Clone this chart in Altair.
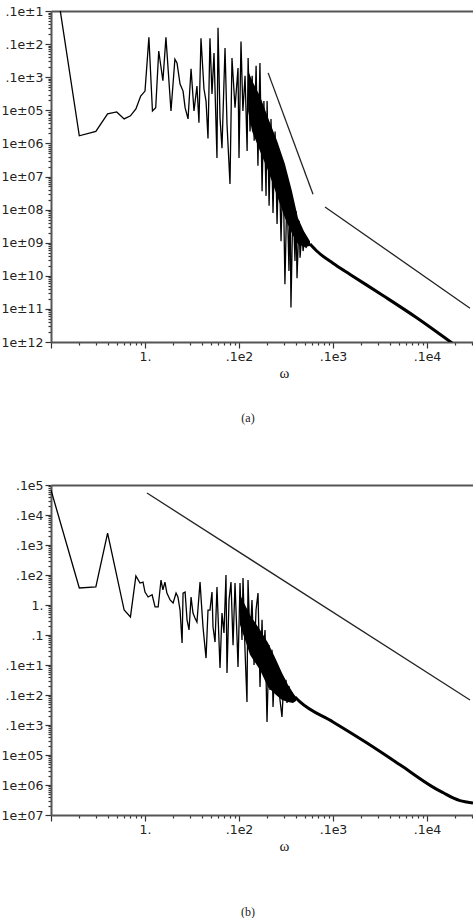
import json
import altair as alt
import pandas as pd

# ---------------- Panel (a) ----------------
a_omega = [0.1, 0.2, 0.3, 0.4, 0.5, 0.6, 0.7, 0.8, 0.9, 1.0, 1.1, 1.2, 1.3, 1.4,
           1.55, 1.67, 1.89, 2.08, 2.19, 2.36, 2.54, 2.67, 2.87, 3.09,
           3.32, 3.57, 3.75, 3.94, 4.24, 4.46, 4.68, 4.91, 5.16, 5.42,
           5.83, 5.98, 6.28, 6.59, 7.10, 7.45, 8.02, 8.42, 9.07, 9.76,
           10.0, 10.5, 11.0, 11.6, 12.2, 12.5, 13.1, 13.8, 14.5, 15.2,
           15.9, 16.7, 17.6, 18.4, 19.4, 19.9, 20.9, 21.9, 23.0, 24.2,
           25.4, 26.6, 28.0, 29.4, 30.8, 32.4, 34.0, 34.9, 35.7, 37.5,
           39.4, 40.4, 41.4, 43.5, 44.6, 46.8, 48.0, 50.4, 51.6, 54.2, 56.9]
a_value = [0.7, 1.7e-6, 2.3e-6, 7.8e-6, 8.9e-6, 5.5e-6, 6.8e-6, 1.1e-5, 2.7e-5, 3.8e-5, 1.6e-3, 9.5e-6, 1.2e-5, 6.2e-4,
           7.8e-5, 1.6e-3, 9.5e-6, 3.5e-4, 2.7e-4, 6.2e-5, 3.8e-5, 1.2e-5, 5.5e-6, 1.8e-4,
           9.5e-6, 5.4e-5, 4.2e-6, 1.5e-3, 4.4e-5, 1.9e-5, 1.4e-6, 1.5e-3, 3.1e-5, 5.4e-4,
           3.6e-7, 3.1e-3, 5.9e-6, 7.2e-7, 7.6e-4, 3.9e-6, 5.9e-8, 3.8e-4, 1.2e-5, 1.9e-4,
           3.6e-7, 1.2e-3, 9.5e-6, 1.1e-4, 5.9e-7, 3.8e-4, 2.3e-6, 1.1e-4, 1.2e-6, 2.2e-4,
           2.1e-7, 2.7e-4, 3.6e-8, 1.9e-5, 2.6e-8, 1.9e-5, 1.3e-8, 5.5e-6, 7.9e-9, 2.3e-6,
           3.7e-9, 5.9e-7, 1.1e-9, 3.0e-7, 5.6e-11, 4.5e-8, 1.4e-10, 2.6e-8, 1.1e-11, 1.8e-8,
           2.8e-10, 9.1e-9, 8.5e-11, 4.6e-9, 3.5e-10, 2.6e-9, 5.6e-10, 1.5e-9, 6.9e-10, 1.1e-9, 9.1e-10]
a_tail_omega = [56.9, 67.1, 100, 152, 343, 777, 1832, 3085]
a_tail_value = [9.1e-10, 5.6e-10, 2.4e-10, 1.1e-10, 2.5e-11, 5.4e-12, 9.5e-13, 3.3e-13]
a_band_omega = [12.5, 13.8, 16.7, 20.4, 25.4, 30.8, 36.6, 42.4, 49.1, 56.9]
a_band_hi = [1.6e-4, 7.8e-5, 2.7e-5, 5.9e-6, 1.2e-6, 2.4e-7, 3.6e-8, 5.6e-9, 2.2e-9, 1.1e-9]
a_band_lo = [9.5e-6, 2.3e-6, 5.9e-7, 1.5e-7, 2.6e-8, 5.6e-9, 1.9e-9, 9.1e-10, 7.4e-10, 8.0e-10]
a_guide_omega = [20.4, 61.3, 82.2, 2866]
a_guide_value = [1.35e-4, 2.9e-8, 1.2e-8, 1.05e-11]
a_guide_seg = [1, 1, 2, 2]
a_y_domain = [1e-12, 1e-2]
a_y_labels = ["1e\u00b112", "1e\u00b111", "1e\u00b110", "1e\u00b109", "1e\u00b108", "1e\u00b107",
              "1e\u00b106", "1e\u00b105", ".1e\u00b13", ".1e\u00b12", ".1e\u00b11"]

# ---------------- Panel (b) ----------------
b_omega = [0.1, 0.2, 0.3, 0.4, 0.6, 0.7, 0.8, 0.885, 0.952, 1.0,
           1.08, 1.19, 1.28, 1.38, 1.48, 1.55, 1.63, 1.71, 1.85, 1.99,
           2.14, 2.24, 2.36, 2.48, 2.54, 2.67, 2.80, 2.94, 3.09, 3.24,
           3.40, 3.57, 3.85, 4.04, 4.14, 4.46, 4.68, 4.91, 5.16, 5.29,
           5.56, 5.83, 6.28, 6.59, 6.92, 7.27, 7.45, 7.83, 8.22, 8.64,
           9.07, 9.52, 9.76, 10.25, 10.76, 11.03, 11.58, 12.16, 12.47, 13.09,
           13.75, 14.45, 15.17, 15.93, 16.73, 17.58, 17.99, 18.92, 19.86, 20.85,
           21.38, 22.44, 23.01, 24.15, 25.36, 26.0, 27.3, 28.65, 30.1, 30.8,
           31.6, 32.4, 34.0, 34.9, 36.6, 37.5, 39.4]
b_value = [6800, 3.7, 4.0, 250, 0.68, 0.40, 9.3, 5.4, 5.8, 2.7,
           1.85, 2.2, 0.86, 0.86, 6.8, 3.2, 5.8, 2.5, 1.47, 1.17,
           2.5, 1.85, 0.68, 0.054, 2.5, 2.7, 0.32, 0.147, 1.85, 0.54,
           0.37, 0.27, 5.8, 0.58, 0.185, 0.017, 0.68, 0.68, 2.7, 0.185,
           0.058, 4.0, 0.0079, 0.54, 0.117, 10, 0.0054, 1.47, 5.8, 0.046,
           5.4, 0.086, 0.0086, 5.4, 0.068, 7.9, 0.032, 0.00058, 6.8, 0.068,
           1.47, 0.01, 0.68, 2.5, 0.00185, 0.32, 0.0147, 0.147, 0.000126, 0.046,
           0.00147, 0.032, 0.0004, 0.0147, 0.001, 0.0054, 0.00068, 0.000185, 0.0037, 0.00068,
           0.0032, 0.00054, 0.002, 0.00068, 0.00126, 0.00068, 0.00086]
b_tail_omega = [39.4, 44.6, 100, 230, 516, 1158, 1492, 1892, 2244, 2644, 3085]
b_tail_value = [8.6e-4, 5.9e-4, 1.26e-4, 2.5e-5, 4.7e-6, 8.5e-7, 5.5e-7, 3.7e-7, 3.0e-7, 2.7e-7, 2.5e-7]
b_band_omega = [10.25, 13.09, 16.73, 20.4, 24.8, 28.7, 33.2, 37.5, 40.4]
b_band_hi = [2.2, 0.46, 0.15, 0.054, 0.015, 0.0054, 0.0022, 0.0012, 0.00086]
b_band_lo = [0.22, 0.022, 0.0068, 0.0018, 0.001, 0.00068, 0.00058, 0.00054, 0.00063]
b_guide_omega = [1.05, 2866]
b_guide_value = [5.4e3, 6.8e-4]
b_guide_seg = [1, 1]
b_y_domain = [1e-7, 1e4]
b_y_labels = ["1e\u00b107", "1e\u00b106", "1e\u00b105", ".1e\u00b13", ".1e\u00b12", ".1e\u00b11",
              ".1", "1.", ".1e2", ".1e3", ".1e4", ".1e5"]

# ---------------- shared x axis ----------------
x_domain = [0.1, 3085]
x_labels = ["", "1.", ".1e2", ".1e3", ".1e4"]   # decades 0.1, 1, 10, 100, 1000

LOG = "(log(datum.value)/LN10)"
IS_DEC = f"abs({LOG} - round({LOG})) < 0.001"


def minor_ticks(lo_exp, hi_exp, vmax):
    vals = []
    for e in range(lo_exp, hi_exp + 1):
        for k in range(1, 10):
            v = k * 10.0 ** e
            if v <= vmax * 1.0001:
                vals.append(v)
    return vals


def label_expr(labels, offset):
    return f"{IS_DEC} ? {json.dumps(labels, ensure_ascii=False)}[round({LOG}) + {offset}] : ''"


TICK_SIZE = {"condition": {"test": IS_DEC, "value": 6}, "value": 3}
LABEL_FONT = "DejaVu Sans"
LABEL_SIZE = 12.5
SERIF = "Liberation Serif"
PLOT_W = 422


def panel(lo, lv, to, tv, bo, bhi, blo, go, gv, gs, y_domain, y_labels, y_lo_exp, y_hi_exp,
          height, caption, cap_offset):
    line_df = pd.DataFrame({"omega": lo, "value": lv})
    tail_df = pd.DataFrame({"omega": to, "value": tv})
    band_df = pd.DataFrame({"omega": bo, "hi": bhi, "lo": blo})
    guide_df = pd.DataFrame({"omega": go, "value": gv, "seg": gs})

    xs = alt.Scale(type="log", domain=x_domain, nice=False)
    ys = alt.Scale(type="log", domain=y_domain, nice=False)

    x_axis = alt.Axis(
        values=minor_ticks(-1, 3, x_domain[1]),
        labelExpr=label_expr(x_labels, 1),
        tickSize=TICK_SIZE, tickColor="#333", tickWidth=1.2,
        labelFont=LABEL_FONT, labelFontSize=LABEL_SIZE, labelColor="#222",
        labelPadding=2, labelOverlap=False, labelFlush=False, labelBound=False,
        domainColor="#555", domainWidth=2, grid=False,
        title="ω", titleFont=SERIF, titleFontSize=15, titleFontWeight="normal",
        titleColor="#222", titleX=233, titleAlign="center", titlePadding=3,
    )
    y_axis = alt.Axis(
        values=minor_ticks(y_lo_exp, y_hi_exp, y_domain[1]),
        labelExpr=label_expr(y_labels, -y_lo_exp),
        tickSize=TICK_SIZE, tickColor="#333", tickWidth=1.2,
        labelFont=LABEL_FONT, labelFontSize=LABEL_SIZE, labelColor="#222",
        labelPadding=2, labelOverlap=False, labelFlush=False, labelBound=False,
        labelBaseline="middle",
        domainColor="#555", domainWidth=2, grid=False, title=None,
        minExtent=51, maxExtent=51,
    )
    top_axis = alt.Axis(orient="top", labels=False, ticks=False, domain=True,
                        domainColor="#555", domainWidth=2, grid=False, title=None)

    band = alt.Chart(band_df).mark_area(color="black", clip=True).encode(
        x=alt.X("omega:Q", scale=xs, axis=None),
        y=alt.Y("hi:Q", scale=ys, axis=y_axis),
        y2="lo:Q",
    )
    line = alt.Chart(line_df).mark_line(color="black", strokeWidth=1.3, clip=True).encode(
        x=alt.X("omega:Q", scale=xs, axis=x_axis),
        y=alt.Y("value:Q", scale=ys, axis=y_axis),
    )
    tail = alt.Chart(tail_df).mark_line(color="black", strokeWidth=3, clip=True,
                                        interpolate="monotone").encode(
        x=alt.X("omega:Q", scale=xs, axis=None),
        y=alt.Y("value:Q", scale=ys, axis=y_axis),
    )
    guides = alt.Chart(guide_df).mark_line(color="#222", strokeWidth=1.3, clip=True).encode(
        x=alt.X("omega:Q", scale=xs, axis=top_axis),
        y=alt.Y("value:Q", scale=ys, axis=y_axis),
        detail="seg:N",
    )
    return alt.layer(band, line, tail, guides).resolve_axis(x="independent").properties(
        width=PLOT_W,
        height=height,
        title=alt.TitleParams(text=caption, orient="bottom", anchor="middle", dx=-14,
                              offset=cap_offset, font=SERIF, fontSize=12,
                              fontWeight="normal", color="#222"),
    )


pa = panel(a_omega, a_value, a_tail_omega, a_tail_value, a_band_omega, a_band_hi, a_band_lo,
           a_guide_omega, a_guide_value, a_guide_seg, a_y_domain, a_y_labels, -12, -2,
           331, "(a)", 32)
pb = panel(b_omega, b_value, b_tail_omega, b_tail_value, b_band_omega, b_band_hi, b_band_lo,
           b_guide_omega, b_guide_value, b_guide_seg, b_y_domain, b_y_labels, -7, 4,
           330, "(b)", 53)

chart = alt.vconcat(pa, pb, spacing=55).properties(
    padding={"left": 0, "top": 5, "right": 0, "bottom": 0},
    background="white",
).configure_view(stroke=None)

chart.save("out.html", embed_options={"renderer": "svg", "actions": False})
